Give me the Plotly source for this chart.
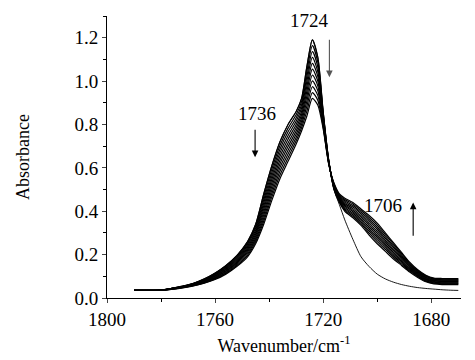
import plotly.graph_objects as go

wavenumber = [1790, 1785, 1780, 1776, 1772, 1768, 1764, 1760, 1756, 1752, 1748, 1745, 1742, 1739,
              1736, 1733, 1730, 1728, 1726, 1724, 1722, 1720, 1718, 1716, 1714, 1712, 1709, 1706,
              1703, 1700, 1697, 1694, 1691, 1688, 1685, 1682, 1679, 1676, 1673, 1670]

spec_00 = [.035, .035, .036, .045, .055, .068, .088, .115, .150, .195, .260, .340, .480, .610, .720, .800, .860, .920, 1.070, 1.190, 1.110, .860, .640, .500, .440, .400, .370, .335, .290, .250, .215, .180, .150, .120, .095, .075, .065, .062, .062, .062]
spec_01 = [.035, .035, .036, .045, .054, .067, .086, .112, .146, .190, .253, .331, .466, .594, .703, .783, .845, .905, 1.047, 1.163, 1.088, .852, .638, .503, .444, .406, .377, .343, .299, .260, .224, .188, .156, .125, .099, .078, .068, .065, .065, .065]
spec_02 = [.035, .035, .036, .044, .053, .066, .084, .109, .142, .185, .246, .322, .452, .578, .686, .766, .830, .890, 1.024, 1.136, 1.066, .844, .636, .506, .448, .412, .384, .350, .308, .269, .232, .195, .162, .129, .102, .081, .070, .068, .068, .068]
spec_03 = [.035, .035, .036, .044, .053, .064, .082, .106, .138, .180, .239, .313, .438, .562, .669, .749, .815, .875, 1.001, 1.109, 1.044, .836, .634, .509, .452, .418, .391, .358, .317, .279, .241, .203, .168, .134, .106, .084, .073, .070, .070, .070]
spec_04 = [.035, .035, .036, .043, .052, .063, .080, .103, .134, .175, .232, .304, .424, .546, .652, .732, .800, .860, .978, 1.082, 1.022, .828, .632, .512, .456, .424, .398, .365, .326, .288, .249, .210, .174, .138, .109, .087, .076, .073, .073, .073]
spec_05 = [.035, .035, .036, .043, .051, .062, .078, .100, .130, .170, .225, .295, .410, .530, .635, .715, .785, .845, .955, 1.055, 1.000, .820, .630, .515, .460, .430, .405, .373, .335, .298, .258, .218, .180, .143, .113, .090, .079, .076, .076, .076]
spec_06 = [.035, .035, .036, .042, .050, .061, .076, .097, .126, .165, .218, .286, .396, .514, .618, .698, .770, .830, .932, 1.028, .978, .812, .628, .518, .464, .436, .412, .380, .344, .307, .266, .225, .186, .147, .116, .093, .081, .079, .079, .079]
spec_07 = [.035, .035, .036, .042, .049, .060, .074, .094, .122, .160, .211, .277, .382, .498, .601, .681, .755, .815, .909, 1.001, .956, .804, .626, .521, .468, .442, .419, .388, .353, .317, .275, .233, .192, .152, .120, .096, .084, .082, .082, .082]
spec_08 = [.035, .035, .036, .041, .049, .058, .072, .091, .118, .155, .204, .268, .368, .482, .584, .664, .740, .800, .886, .974, .934, .796, .624, .524, .472, .448, .426, .395, .362, .326, .283, .240, .198, .156, .123, .099, .087, .084, .084, .084]
spec_09 = [.035, .035, .036, .041, .048, .057, .070, .088, .114, .150, .197, .259, .354, .466, .567, .647, .725, .785, .863, .947, .912, .788, .622, .527, .476, .454, .433, .403, .371, .336, .292, .248, .204, .161, .127, .102, .089, .087, .087, .087]
spec_10 = [.035, .035, .036, .040, .047, .056, .068, .085, .110, .145, .190, .250, .340, .450, .550, .630, .710, .770, .840, .920, .890, .780, .620, .530, .480, .460, .440, .410, .380, .345, .300, .255, .210, .165, .130, .105, .092, .090, .090, .090]
spec_ref = [.035, .035, .036, .045, .055, .068, .088, .115, .150, .195, .260, .340, .480, .610, .720, .800, .860, .920, 1.070, 1.190, 1.110, .860, .640, .500, .430, .360, .270, .190, .145, .110, .088, .073, .062, .054, .048, .044, .041, .038, .036, .035]

spectra = [spec_00, spec_01, spec_02, spec_03, spec_04, spec_05, spec_06, spec_07, spec_08,
           spec_09, spec_10]

band_labels = ["1724", "1736", "1706"]
label_pos = [(1725.2, 1.277), (1744.4, 0.850), (1697.8, 0.425)]
arrow_pos = [(1717.7, 1.198, 1.018), (1745.2, 0.783, 0.649), (1686.7, 0.280, 0.440)]

x_ticks = [1800, 1760, 1720, 1680]
y_ticks = [0.0, 0.2, 0.4, 0.6, 0.8, 1.0, 1.2]

FONT = "Liberation Serif"

fig = go.Figure()
for s in spectra:
    fig.add_trace(go.Scatter(x=wavenumber, y=s, mode="lines",
                             line=dict(color="black", width=1.2, shape="spline", smoothing=0.7),
                             showlegend=False, hoverinfo="skip"))
fig.add_trace(go.Scatter(x=wavenumber, y=spec_ref, mode="lines",
                         line=dict(color="black", width=0.9, shape="spline", smoothing=0.7),
                         showlegend=False, hoverinfo="skip"))

for lab, (lx, ly) in zip(band_labels, label_pos):
    fig.add_annotation(x=lx, y=ly, text=lab, showarrow=False,
                       font=dict(family=FONT, size=19, color="black"))
for i, (axx, y0, y1) in enumerate(arrow_pos):
    col = "#555555" if i == 0 else "black"
    fig.add_annotation(x=axx, y=y1, ax=axx, ay=y0, xref="x", yref="y", axref="x", ayref="y",
                       text="", showarrow=True, arrowhead=2, arrowsize=1.2, arrowwidth=1.1,
                       arrowcolor=col)

fig.update_layout(
    width=475, height=360,
    margin=dict(l=107, r=14, t=16, b=62),
    paper_bgcolor="white", plot_bgcolor="white",
    font=dict(family=FONT, size=18, color="black"),
)
fig.update_xaxes(range=[1800, 1669], tickvals=x_ticks, ticks="outside", ticklen=4,
                 tickwidth=1, showline=True, linecolor="black", linewidth=1,
                 showgrid=False, zeroline=False, automargin=False,
                 minor=dict(dtick=20, tick0=1800, ticks="outside", ticklen=3, tickcolor="black", showgrid=False),
                 title=dict(text="Wavenumber/cm<sup>-1</sup>", font=dict(family=FONT, size=18), standoff=10),
                 tickfont=dict(family=FONT, size=19))
fig.update_yaxes(range=[0, 1.3], tickvals=y_ticks, tickformat=".1f", ticks="outside", ticklen=4,
                 tickwidth=1, showline=True, linecolor="black", linewidth=1,
                 showgrid=False, zeroline=False, automargin=False,
                 minor=dict(dtick=0.1, tick0=0, ticks="outside", ticklen=3, tickcolor="black", showgrid=False),
                 title=dict(text="Absorbance", font=dict(family=FONT, size=18), standoff=40),
                 tickfont=dict(family=FONT, size=19))

fig.write_html("out.html")
